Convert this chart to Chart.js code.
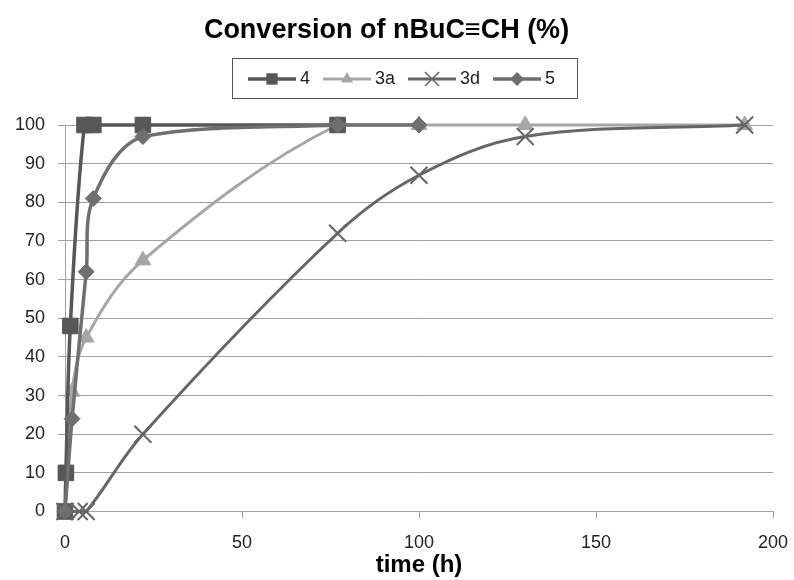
<!DOCTYPE html>
<html>
<head>
<meta charset="utf-8">
<script src="https://cdn.jsdelivr.net/npm/chart.js@4.4.1/dist/chart.umd.min.js"></script>
<style>
  html, body { margin: 0; padding: 0; background: #fff; }
</style>
</head>
<body>
<canvas id="conversionChart" width="794" height="580"></canvas>
<script>
// Data
const seriesNames = ["4", "3a", "3d", "5"];
const time4 = [0, 0.25, 1.5, 5.5, 8, 22, 77];
const conv4 = [0, 10, 48, 100, 100, 100, 100];
const time3a = [0, 2, 6, 22, 77, 100, 130, 192];
const conv3a = [0, 31, 45, 65, 100, 100, 100, 100];
const time3d = [0, 4, 6, 22, 77, 100, 130, 192];
const conv3d = [0, 0, 0, 20, 72, 87, 97, 100];
const time5 = [0, 2, 6, 8, 22, 77, 100];
const conv5 = [0, 24, 62, 81, 97, 100, 100];
const xTicks = [0, 50, 100, 150, 200];
const yTicks = [0, 10, 20, 30, 40, 50, 60, 70, 80, 90, 100];

const FONT = "'Liberation Sans', Arial, sans-serif";

function points(xs, ys) {
  return xs.map((x, i) => ({ x: x, y: ys[i] }));
}

const styles = [
  { color: "#575757", pointStyle: "rect", radius: 11, width: 3.5, legendRadius: 8, order: 3 },
  { color: "#a6a6a6", pointStyle: "triangle", radius: 9, width: 3, legendRadius: 7, order: 4 },
  { color: "#666666", pointStyle: "crossRot", radius: 12, width: 3, legendRadius: 10, order: 2 },
  { color: "#6f6f6f", pointStyle: "rectRot", radius: 8, width: 3.5, legendRadius: 7, order: 1 },
];
const seriesData = [
  points(time4, conv4),
  points(time3a, conv3a),
  points(time3d, conv3d),
  points(time5, conv5),
];

const datasets = seriesNames.map((name, i) => ({
  label: name,
  data: seriesData[i],
  borderColor: styles[i].color,
  backgroundColor: styles[i].color,
  borderWidth: styles[i].width,
  pointStyle: styles[i].pointStyle,
  pointRadius: styles[i].radius,
  pointHoverRadius: styles[i].radius,
  pointBorderWidth: styles[i].pointStyle === "crossRot" ? 2 : 1,
  tension: 0.35,
  order: styles[i].order,
  clip: false,
}));

// small marker drawer for the boxed legend
function drawMarker(ctx, style, x, y, r, color) {
  ctx.save();
  ctx.fillStyle = color;
  ctx.strokeStyle = color;
  ctx.beginPath();
  if (style === "rect") {
    const s = r * Math.SQRT1_2;
    ctx.rect(x - s, y - s, 2 * s, 2 * s);
    ctx.fill();
  } else if (style === "triangle") {
    ctx.moveTo(x, y - r);
    ctx.lineTo(x + r * 0.866, y + r * 0.5);
    ctx.lineTo(x - r * 0.866, y + r * 0.5);
    ctx.closePath();
    ctx.fill();
  } else if (style === "rectRot") {
    ctx.moveTo(x, y - r);
    ctx.lineTo(x + r, y);
    ctx.lineTo(x, y + r);
    ctx.lineTo(x - r, y);
    ctx.closePath();
    ctx.fill();
  } else if (style === "crossRot") {
    const s = r * Math.SQRT1_2;
    ctx.lineWidth = 1.5;
    ctx.moveTo(x - s, y - s); ctx.lineTo(x + s, y + s);
    ctx.moveTo(x - s, y + s); ctx.lineTo(x + s, y - s);
    ctx.stroke();
  }
  ctx.restore();
}

const boxedLegend = {
  id: "boxedLegend",
  afterDraw(chart) {
    const ctx = chart.ctx;
    const left = 232, top = 58, right = 577, bottom = 98;
    const midY = (top + bottom) / 2 + 1;
    ctx.save();
    ctx.strokeStyle = "#555";
    ctx.lineWidth = 1;
    ctx.strokeRect(left + 0.5, top + 0.5, right - left, bottom - top);
    ctx.font = "18px " + FONT;
    ctx.textBaseline = "middle";
    let x = 248;
    seriesNames.forEach((name, i) => {
      const st = styles[i];
      ctx.strokeStyle = st.color;
      ctx.lineWidth = st.width;
      ctx.beginPath();
      ctx.moveTo(x, midY);
      ctx.lineTo(x + 48, midY);
      ctx.stroke();
      drawMarker(ctx, st.pointStyle, x + 24, midY, st.legendRadius, st.color);
      ctx.fillStyle = "#222";
      ctx.fillText(name, x + 52, midY);
      x += 52 + ctx.measureText(name).width + 13;
    });
    ctx.restore();
  },
};

new Chart(document.getElementById("conversionChart"), {
  type: "line",
  data: { datasets: datasets },
  plugins: [boxedLegend],
  options: {
    responsive: false,
    animation: false,
    layout: { padding: { left: 0, right: 21, top: 0, bottom: 0 } },
    plugins: {
      legend: { display: false },
      tooltip: { enabled: false },
      title: {
        display: true,
        text: "Conversion of nBuC\u2261CH (%)",
        color: "#000",
        font: { family: FONT, size: 27, weight: "bold" },
        padding: { top: 14, bottom: 78.6 },
      },
    },
    scales: {
      x: {
        type: "linear",
        min: 0,
        max: 200,
        afterBuildTicks: (axis) => { axis.ticks = xTicks.map((v) => ({ value: v })); },
        afterFit: (axis) => {
          axis.height = 68.5;
          axis.paddingLeft = 0;
          axis.paddingRight = 0;
        },
        grid: { drawOnChartArea: false, drawTicks: true, tickLength: 7, color: "#a0a0a0" },
        border: { display: true, color: "#a0a0a0" },
        ticks: { color: "#222", padding: 14, font: { family: FONT, size: 18 } },
        title: {
          display: true,
          text: "time (h)",
          color: "#000",
          font: { family: FONT, size: 24, weight: "bold" },
          padding: { top: 0, bottom: 0 },
        },
      },
      y: {
        type: "linear",
        min: 0,
        max: 100,
        afterBuildTicks: (axis) => { axis.ticks = yTicks.map((v) => ({ value: v })); },
        afterFit: (axis) => { axis.width = 65; },
        grid: { drawOnChartArea: true, drawTicks: true, tickLength: 7, color: "#a0a0a0" },
        border: { display: true, color: "#a0a0a0" },
        ticks: { color: "#222", padding: 13, font: { family: FONT, size: 18 } },
      },
    },
  },
});
</script>
</body>
</html>
